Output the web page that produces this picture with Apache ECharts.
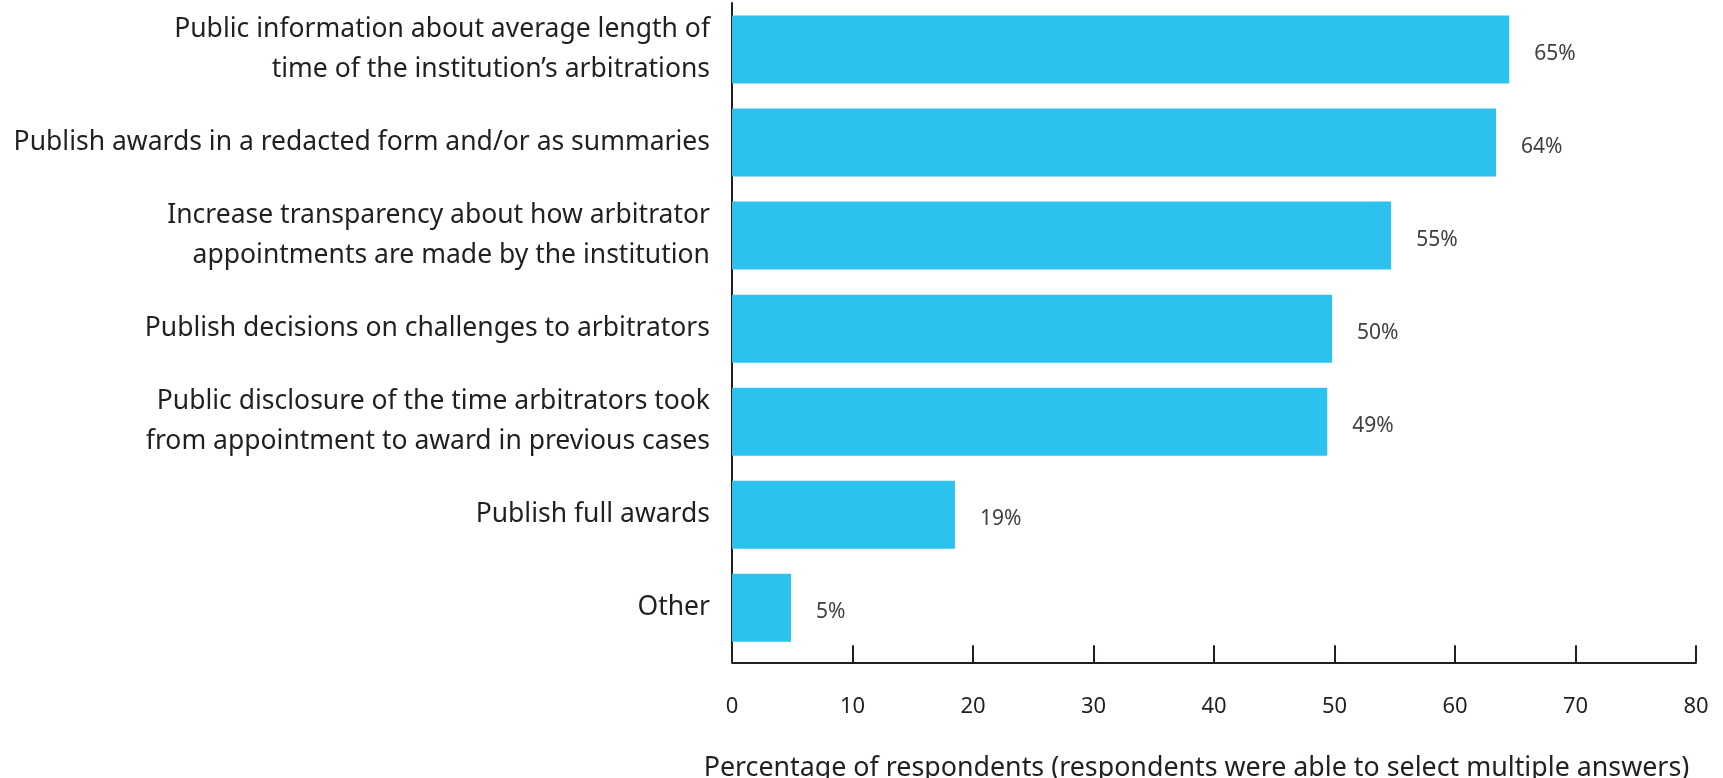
<!DOCTYPE html>
<html>
<head>
<meta charset="utf-8">
<script src="https://cdn.jsdelivr.net/npm/echarts@6/dist/echarts.min.js"></script>
<style>
html,body{margin:0;padding:0;background:#fff;}
#chart{width:1723px;height:778px;}
</style>
</head>
<body>
<div id="chart"></div>
<script>
const categories = [
  "Public information about average length of\ntime of the institution\u2019s arbitrations",
  "Publish awards in a redacted form and/or as summaries",
  "Increase transparency about how arbitrator\nappointments are made by the institution",
  "Publish decisions on challenges to arbitrators",
  "Public disclosure of the time arbitrators took\nfrom appointment to award in previous cases",
  "Publish full awards",
  "Other"
];
const values = [64.5, 63.4, 54.7, 49.8, 49.4, 18.5, 4.9];
const valueLabels = ["65%", "64%", "55%", "50%", "49%", "19%", "5%"];
const xTicks = [0, 10, 20, 30, 40, 50, 60, 70, 80];
const axisTitle = "Percentage of respondents (respondents were able to select multiple answers)";

const FONT = '"Noto Sans", sans-serif';
const chart = echarts.init(document.getElementById('chart'), null, {renderer: 'canvas'});
chart.setOption({
  animation: false,
  grid: {left: 732, right: 27, top: 3, bottom: 123.7, containLabel: false, outerBoundsMode: 'none'},
  xAxis: {
    type: 'value',
    min: xTicks[0], max: xTicks[xTicks.length - 1], interval: 10,
    offset: 8,
    splitLine: {show: false},
    axisLine: {show: true, lineStyle: {color: '#231f20', width: 2}},
    axisTick: {show: true, inside: true, length: 17, lineStyle: {color: '#231f20', width: 2}},
    axisLabel: {margin: 33, fontFamily: FONT, fontSize: 22, color: '#231f20'},
    name: axisTitle,
    nameLocation: 'middle',
    nameGap: 93,
    nameTextStyle: {fontFamily: FONT, fontSize: 26.8, color: '#231f20', padding: [0, 35, 0, 0]}
  },
  yAxis: {
    type: 'category',
    inverse: true,
    data: categories,
    axisLine: {show: true, lineStyle: {color: '#231f20', width: 2}},
    axisTick: {show: false},
    axisLabel: {margin: 22, fontFamily: FONT, fontSize: 26.5, color: '#231f20', lineHeight: 40, align: 'right'}
  },
  series: [{
    type: 'bar',
    data: values,
    barWidth: 68,
    itemStyle: {color: '#2dc1ee'},
    label: {
      show: true, position: 'right', distance: 25, offset: [0, 4],
      fontFamily: FONT, fontSize: 21, color: '#404040',
      formatter: p => valueLabels[p.dataIndex]
    }
  }]
});
</script>
</body>
</html>
